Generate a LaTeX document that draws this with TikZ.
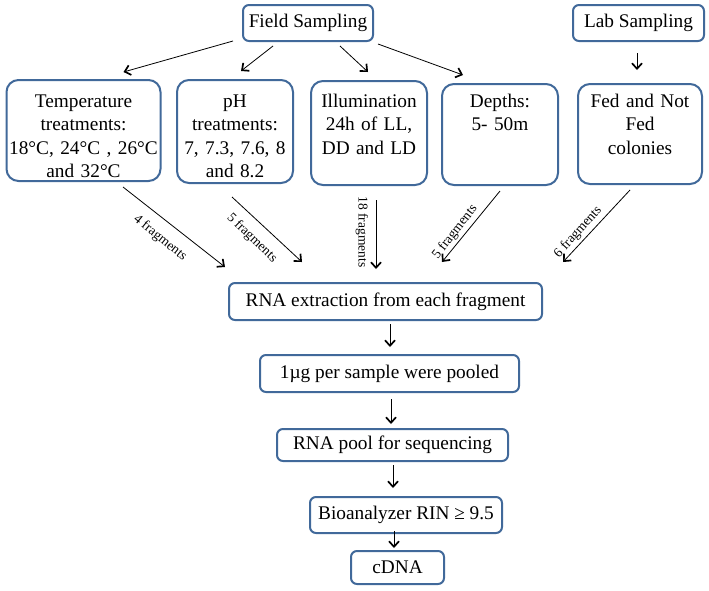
\documentclass[tikz,border=0pt]{standalone}
\usepackage{fontspec}
\setmainfont{Liberation Serif}
\usepackage{tikz}
\usetikzlibrary{calc, positioning, arrows.meta}
\definecolor{boxblue}{HTML}{41699A}

\begin{document}
\begin{tikzpicture}[x=1pt, y=-1pt,
    tallbox/.style={draw=boxblue, line width=2pt, rounded corners=12pt, inner sep=0pt,
        align=center, anchor=north, font=\fontsize{19.3}{23.5}\selectfont},
    flatbox/.style={draw=boxblue, line width=2pt, rounded corners=6pt, inner sep=0pt,
        font=\fontsize{19.3}{23.5}\selectfont},
    arr/.style={-{Straight Barb[length=5.5pt,width=10pt,line width=1.7pt]}, line width=0.8pt},
    frag/.style={font=\fontsize{13.5}{16}\selectfont, inner sep=0pt}]
        \useasboundingbox (0,0) rectangle (709,590);

        % sampling
        \node[flatbox, minimum width=130pt, minimum height=36pt] (fs) at (308,23) {Field Sampling};
        \node[flatbox, minimum width=131pt, minimum height=36pt] (lab) at (638.5,23) {Lab Sampling};

        % treatments
        \node[tallbox, text width=154pt, text height=27pt, text depth=74pt] (temp) at (83.5,79)
            {Temperature\\treatments:\\18°C, 24°C , 26°C\\and 32°C};
        \node[tallbox, text width=116pt, text height=27pt, text depth=76pt] (ph) at (235,79)
            {pH\\treatments:\\7, 7.3, 7.6, 8\\and 8.2};
        \node[tallbox, text width=116pt, text height=26pt, text depth=78pt] (illum) at (369,80)
            {Illumination\\24h of LL,\\DD and LD};
        \node[tallbox, text width=116pt, text height=23pt, text depth=78pt] (depths) at (500,83)
            {Depths:\\5- 50m};
        \node[tallbox, text width=124pt, text height=23pt, text depth=77pt] (fed) at (640,83)
            {Fed and Not\\Fed\\colonies};

        % processing
        \node[flatbox, minimum width=313pt, minimum height=37pt] (rna) at (385.5,301.5) {RNA extraction from each fragment};
        \node[flatbox, minimum width=259pt, minimum height=37pt] (pooled) at (389.5,373.5) {1µg per sample were pooled};
        \node[flatbox, minimum width=231pt, minimum height=32pt] (seqpool) at (392.5,445) {RNA pool for sequencing};
        \node[flatbox, minimum width=192pt, minimum height=36pt] (bio) at (406,515) {Bioanalyzer RIN ≥ 9.5};
        \node[flatbox, minimum width=93pt, minimum height=33pt] (cdna) at (397.5,567.5) {cDNA};

        \draw[arr] ($(fs.south west)+(-9,-1)$) -- ($(temp.north)+(40,-7)$);
        \draw[arr] ($(fs.south)+(-35,4)$) -- ($(ph.north)+(6,-8)$);
        \draw[arr] ($(fs.south)+(32,4)$) -- ($(illum.north)+(-1,-8)$);
        \draw[arr] ($(fs.south east)+(4,2)$) -- ($(depths.north)+(-37,-8)$);
        \draw[arr] ($(lab.south)+(-1.5,11)$) -- ($(fed.north)+(-3,-13)$);

        \draw[arr] ($(temp.south)+(39.5,5)$) -- ($(rna.north)+(-160.5,-15)$);
        \draw[arr] ($(ph.south)+(-3,13)$) -- ($(rna.north)+(-83.5,-20)$);
        \draw[arr] ($(illum.south)+(7,14)$) -- ($(rna.north)+(-9.5,-13)$);
        \draw[arr] ($(depths.south)+(0,5)$) -- ($(rna.north)+(56.5,-20)$);
        \draw[arr] ($(fed.south)+(-10,5)$) -- ($(rna.north)+(177.5,-20)$);

        \node[frag, rotate=-39] (f4) at (160,238) {4 fragments};
        \node[frag, rotate=-44] (f5a) at (252,238) {5 fragments};
        \node[frag, rotate=-90] (f18) at (362,232) {18 fragments};
        \node[frag, rotate=52] (f5b) at (455,232) {5 fragments};
        \node[frag, rotate=48] (f6) at (578,232) {6 fragments};

        \draw[arr] ($(rna.south)+(4.5,3)$) -- ($(pooled.north)+(0.5,-7)$);
        \draw[arr] ($(pooled.south)+(1.5,6)$) -- ($(seqpool.north)+(-1.5,-4)$);
        \draw[arr] ($(seqpool.south)+(0.5,3)$) -- ($(bio.north)+(-13,-8)$);
        \draw[arr] ($(bio.south)+(-12,-3)$) -- ($(cdna.north)+(-3.5,-2)$);
\end{tikzpicture}
\end{document}
